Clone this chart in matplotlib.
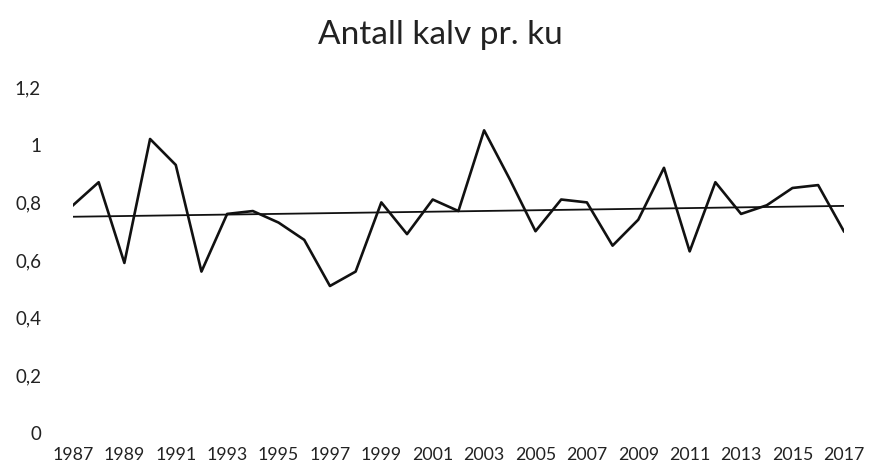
import matplotlib
matplotlib.use('Agg')
import matplotlib.pyplot as plt
import numpy as np

plt.rcParams['font.family'] = ['Lato', 'DejaVu Sans']

years = list(range(1987, 2018))
kalv_pr_ku = [0.79, 0.87, 0.59, 1.02, 0.93, 0.56, 0.76, 0.77, 0.73, 0.67,
              0.51, 0.56, 0.80, 0.69, 0.81, 0.77, 1.05, 0.88, 0.70, 0.81,
              0.80, 0.65, 0.74, 0.92, 0.63, 0.87, 0.76, 0.79, 0.85, 0.86,
              0.70]
year_ticks = list(range(1987, 2018, 2))
y_ticks = [0, 0.2, 0.4, 0.6, 0.8, 1.0, 1.2]
y_labels = ['0', '0,2', '0,4', '0,6', '0,8', '1', '1,2']

# lineaer trend
k, m = np.polyfit(years, kalv_pr_ku, 1)
trend = [k * yr + m for yr in years]

fig = plt.figure(figsize=(8.73, 4.70), dpi=100)
ax = fig.add_axes([0.0836, 0.0787, 0.883, 0.736])

ax.plot(years, kalv_pr_ku, color='#111111', lw=1.9)
ax.plot(years, trend, color='#111111', lw=1.3)

ax.set_xlim(1987, 2017)
ax.set_ylim(0, 1.2)
ax.set_xticks(year_ticks)
ax.set_xticklabels([str(y) for y in year_ticks])
ax.set_yticks(y_ticks)
ax.set_yticklabels(y_labels)
ax.tick_params(axis='both', length=0, colors='#222222')
ax.tick_params(axis='y', pad=23, labelsize=13.5)
ax.tick_params(axis='x', pad=10, labelsize=12.8)
for s in ax.spines.values():
    s.set_visible(False)

fig.text(0.505, 0.925, 'Antall kalv pr. ku', ha='center', va='center',
         fontsize=24, color='#222222')

fig.savefig('out.png', dpi=100)
